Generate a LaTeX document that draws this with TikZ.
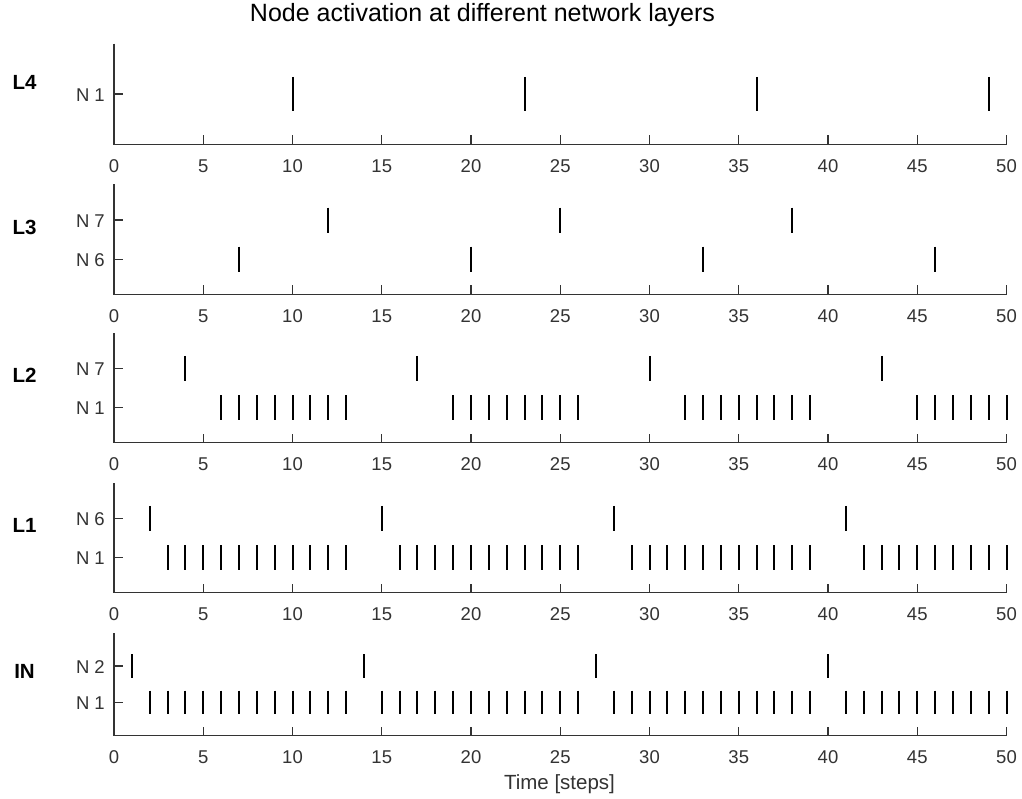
\documentclass[tikz,border=0pt]{standalone}
\usepackage{fontspec}
\setmainfont{Liberation Sans}
\definecolor{axc}{gray}{0.2}
\newcommand\panelaxes[3]{% #1 top, #2 bottom, #3 name prefix
  \draw[axis] (114,#1) -- (114,#2) -- (1006.5,#2);
  \foreach \v in {0,5,...,50}{
    \draw[axis] (114+17.85*\v,#2) -- ++(0,-9);
    \node[ticklab, anchor=base] (#3x\v) at (114+17.85*\v,#2+28) {\v};
  }
}
\newcommand\spikerow[5]{% #1 y, #2 label, #3 half length, #4 spikes, #5 name
  \draw[axis] (114,#1) -- ++(9,0);
  \node[ticklab, anchor=base east] (#5) at (105,#1+7) {#2};
  \foreach \v in {#4} \draw[spike] (114+17.85*\v,#1-#3) -- (114+17.85*\v,#1+#3);
}
\begin{document}
\begin{tikzpicture}[x=1pt,y=-1pt,
  axis/.style={draw=axc, line width=1.3pt},
  spike/.style={draw=black, line width=2pt},
  ticklab/.style={font=\fontsize{18.5}{19}\selectfont, text=axc, inner sep=0pt},
  layer/.style={font=\fontsize{20.5}{21}\selectfont\bfseries, text=black, inner sep=0pt},
]
\useasboundingbox[fill=white] (0,0) rectangle (1022,798);
\node[font=\fontsize{25}{26}\selectfont, anchor=base, inner sep=0pt] (title) at (482.5,21.7) {Node activation at different network layers};

% L4
\panelaxes{43.5}{144.3}{pA}
\spikerow{94}{N 1}{17.2}{10,23,36,49}{l4n1}
\node[layer] (L4) at (24.5,82.5) {L4};

% L3
\panelaxes{184.3}{294.3}{pB}
\spikerow{220}{N 7}{12.5}{12,25,38}{l3n7}
\spikerow{259.2}{N 6}{12.5}{7,20,33,46}{l3n6}
\node[layer] (L3) at (24.5,227) {L3};

% L2
\panelaxes{333.3}{442.7}{pC}
\spikerow{368.4}{N 7}{12.5}{4,17,30,43}{l2n7}
\spikerow{407.7}{N 1}{12.5}{6,7,8,9,10,11,12,13,19,20,21,22,23,24,25,26,32,33,34,35,36,37,38,39,45,46,47,48,49,50}{l2n1}
\node[layer] (L2) at (24.5,375.5) {L2};

% L1
\panelaxes{483.3}{592.7}{pD}
\spikerow{518.3}{N 6}{12.5}{2,15,28,41}{l1n6}
\spikerow{557.7}{N 1}{12.5}{3,4,5,6,7,8,9,10,11,12,13,16,17,18,19,20,21,22,23,24,25,26,29,30,31,32,33,34,35,36,37,38,39,42,43,44,45,46,47,48,49,50}{l1n1}
\node[layer] (L1) at (24.5,525.5) {L1};

% IN
\panelaxes{633.3}{735.7}{pE}
\spikerow{666}{N 2}{11.9}{1,14,27,40}{inn2}
\spikerow{702.4}{N 1}{11.9}{2,3,4,5,6,7,8,9,10,11,12,13,15,16,17,18,19,20,21,22,23,24,25,26,28,29,30,31,32,33,34,35,36,37,38,39,41,42,43,44,45,46,47,48,49,50}{inn1}
\node[layer] (IN) at (24.5,671.7) {IN};

\node[font=\fontsize{20.5}{21}\selectfont, text=axc, anchor=base, inner sep=0pt] (xlab) at (559.5,789.3) {Time [steps]};
\end{tikzpicture}
\end{document}
